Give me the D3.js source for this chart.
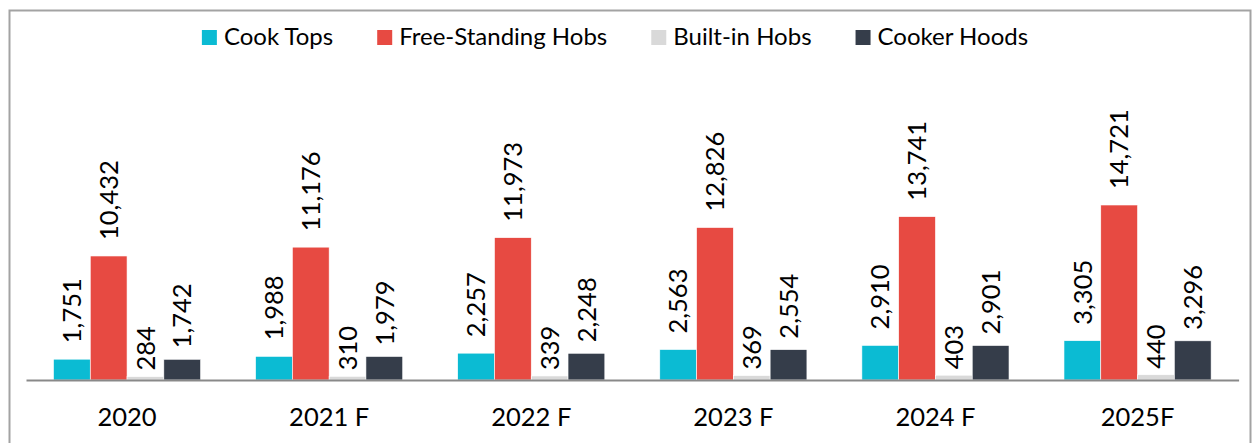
<!DOCTYPE html>
<html>
<head>
<meta charset="utf-8">
<script src="https://cdn.jsdelivr.net/npm/d3@7"></script>
<style>
	html, body { margin: 0; padding: 0; background: #fff; }
	svg { display: block; font-family: Lato, 'Open Sans', sans-serif; }
</style>
</head>
<body>
<svg id="chart" width="1255" height="443"></svg>
<script>
const categories = ['2020', '2021 F', '2022 F', '2023 F', '2024 F', '2025F'];
const seriesNames = ['Cook Tops', 'Free-Standing Hobs', 'Built-in Hobs', 'Cooker Hoods'];
const cookTops = [1751, 1988, 2257, 2563, 2910, 3305];
const freeStandingHobs = [10432, 11176, 11973, 12826, 13741, 14721];
const builtInHobs = [284, 310, 339, 369, 403, 440];
const cookerHoods = [1742, 1979, 2248, 2554, 2901, 3296];
const seriesColors = ['#0bbbd3', '#e74a42', '#d9d9d9', '#353d4a'];

const series = [cookTops, freeStandingHobs, builtInHobs, cookerHoods];
// offset of the rotated value label above each bar, per series
const labelGap = [16, 16, 6, 11];

const svg = d3.select('#chart');

// outer frame
svg.append('rect')
	.attr('x', 9.5).attr('y', 10.5)
	.attr('width', 1241).attr('height', 460)
	.attr('fill', 'none')
	.attr('stroke', '#a3a3a3')
	.attr('stroke-width', 2);

const x = d3.scaleBand()
	.domain(categories)
	.range([26, 1238.6])
	.paddingInner(0.272)
	.paddingOuter(0.136);

const xInner = d3.scaleBand()
	.domain(seriesNames)
	.range([0, x.bandwidth()]);

const y = d3.scaleLinear()
	.domain([0, 16000])
	.range([380, 189.8]);

const fmt = d3.format(',');

const groups = svg.append('g')
	.selectAll('g')
	.data(categories)
	.join('g')
	.attr('transform', d => `translate(${x(d)},0)`);

const cells = groups.selectAll('g')
	.data((c, i) => seriesNames.map((s, j) => ({s, j, v: series[j][i]})))
	.join('g');

cells.append('rect')
	.attr('x', d => xInner(d.s))
	.attr('y', d => y(d.v))
	.attr('width', xInner.bandwidth())
	.attr('height', d => y(0) - y(d.v))
	.attr('fill', d => seriesColors[d.j])
	.attr('stroke', '#fff')
	.attr('stroke-width', 0.6);

cells.append('text')
	.attr('transform', d => `translate(${xInner(d.s) + xInner.bandwidth() / 2},${y(d.v) - labelGap[d.j]}) rotate(-90)`)
	.attr('dy', '0.36em')
	.attr('font-size', 25.5)
	.attr('fill', '#000')
	.text(d => fmt(d.v));

// category axis
const axis = svg.append('g')
	.attr('transform', `translate(0,${y(0)})`)
	.call(d3.axisBottom(x).tickSize(0).tickPadding(28));

axis.select('.domain')
	.attr('stroke', '#898989')
	.attr('stroke-width', 2);

axis.selectAll('text')
	.attr('font-family', 'Lato, sans-serif')
	.attr('font-size', 25.5)
	.attr('fill', '#000');

// legend, centred on the measured item widths
const legend = svg.append('g');
const items = legend.selectAll('g')
	.data(seriesNames)
	.join('g');

items.append('rect')
	.attr('y', 30)
	.attr('width', 15)
	.attr('height', 15)
	.attr('fill', (d, i) => seriesColors[i]);

items.append('text')
	.attr('x', 22)
	.attr('y', 45)
	.attr('font-size', 24)
	.attr('fill', '#000')
	.text(d => d);

let cursor = 0;
items.each(function() {
	const w = d3.select(this).select('text').node().getComputedTextLength();
	d3.select(this).attr('transform', `translate(${cursor},0)`);
	cursor += 22 + w + 44;
});
legend.attr('transform', `translate(${615 - (cursor - 44) / 2},0)`);
</script>
</body>
</html>
